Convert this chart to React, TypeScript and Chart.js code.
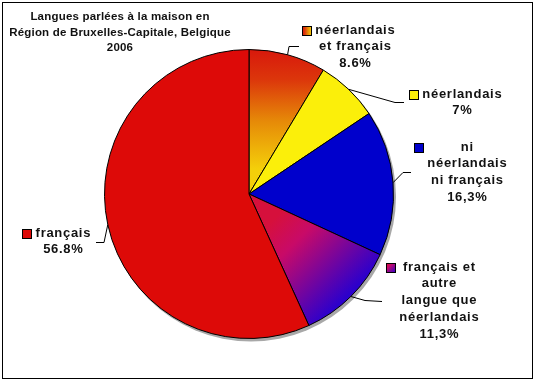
import React, { useEffect, useRef } from "react";
import { Chart, registerables } from "chart.js";

Chart.register(...registerables);

const titleLines = ["Langues parlées à la maison en", "Région de Bruxelles-Capitale, Belgique", "2006"];
const categories = [
  "néerlandais\net français",
  "néerlandais",
  "ni\nnéerlandais\nni français",
  "français et\nautre\nlangue que\nnéerlandais",
  "français",
];
const values = [8.6, 7, 16.3, 11.3, 56.8];
const valueLabels = ["8.6%", "7%", "16,3%", "11,3%", "56.8%"];

// layout of the labels: block center x, first line y, leader elbow and end
const labelLayout = [
  { cx: 355, y: 30, elbow: [289, 46], end: [299, 46] },
  { cx: 462, y: 94, elbow: [395, 102], end: [404, 102] },
  { cx: 467, y: 147, elbow: [403, 172], end: [411, 172] },
  { cx: 439, y: 267, elbow: [365, 300], end: [382, 301] },
  { cx: 63, y: 233, elbow: [104, 242], end: [96, 242] },
];

function geom(chart: any) {
  const a = chart.chartArea;
  const cx = (a.left + a.right) / 2;
  const cy = (a.top + a.bottom) / 2;
  const r = (Math.min(a.right - a.left, a.bottom - a.top) - 1) / 2;
  return { cx, cy, r };
}

function fillFor(ctx: CanvasRenderingContext2D, chart: any, i: number, box?: { x: number; y: number; s: number }) {
  const solid = ["#e0500a", "#fbef0a", "#0000cc", "#8010a0", "#dd0a08"];
  if (!chart.chartArea) return solid[i];
  const { cx, cy, r } = geom(chart);
  if (i === 0) {
    const g = box
      ? ctx.createLinearGradient(box.x, box.y, box.x + box.s, box.y)
      : ctx.createLinearGradient(cx, cy - r, cx, cy - 25);
    g.addColorStop(0, "#d8180c");
    g.addColorStop(0.25, "#dc360b");
    g.addColorStop(0.6, "#e68a08");
    g.addColorStop(1, "#f4cf0a");
    return g;
  }
  if (i === 3) {
    const g = box
      ? ctx.createLinearGradient(box.x, box.y, box.x + box.s, box.y + box.s)
      : ctx.createLinearGradient(cx + 20, cy + 30, cx + 95, cy + 105);
    g.addColorStop(0, "#d6103c");
    g.addColorStop(0.3, "#c80a68");
    g.addColorStop(1, "#2c00cc");
    return g;
  }
  return solid[i];
}

const decorPlugin = {
  id: "decor",
  beforeDraw(chart: any) {
    const ctx = chart.ctx;
    ctx.save();
    ctx.fillStyle = "#fff";
    ctx.fillRect(0, 0, chart.width, chart.height);
    ctx.restore();
  },
  beforeDatasetsDraw(chart: any) {
    const ctx = chart.ctx;
    const { cx, cy, r } = geom(chart);
    ctx.save();
    ctx.fillStyle = "#a8a8a8";
    ctx.beginPath();
    ctx.arc(cx + 2, cy + 2.5, r + 0.5, 0, Math.PI * 2);
    ctx.fill();
    ctx.restore();
  },
  afterDraw(chart: any) {
    const ctx = chart.ctx;
    ctx.save();
    // frame
    ctx.strokeStyle = "#000";
    ctx.lineWidth = 1;
    ctx.strokeRect(2.5, 2.5, 530, 376);
    // title
    ctx.fillStyle = "#111";
    ctx.textAlign = "center";
    ctx.textBaseline = "middle";
    ctx.font = "bold 11.5px 'Liberation Sans', Arial, sans-serif";
    (ctx as any).letterSpacing = "0.2px";
    titleLines.forEach((t, k) => ctx.fillText(t, 120, 17 + k * 15.5));

    // labels
    const meta = chart.getDatasetMeta(0);
    ctx.font = "bold 13px 'Liberation Sans', Arial, sans-serif";
    (ctx as any).letterSpacing = "0.7px";
    meta.data.forEach((arc: any, i: number) => {
      const p = arc.getProps(["x", "y", "startAngle", "endAngle", "outerRadius"], true);
      const mid = (p.startAngle + p.endAngle) / 2;
      const sx = p.x + Math.cos(mid) * p.outerRadius;
      const sy = p.y + Math.sin(mid) * p.outerRadius;
      const L = labelLayout[i];
      ctx.strokeStyle = "#000";
      ctx.lineWidth = 1;
      ctx.beginPath();
      ctx.moveTo(sx, sy);
      ctx.lineTo(L.elbow[0], L.elbow[1] + 0.5);
      ctx.lineTo(L.end[0], L.end[1] + 0.5);
      ctx.stroke();

      const lines = categories[i].split("\n").concat([valueLabels[i]]);
      const maxW = Math.max(...lines.map((t) => ctx.measureText(t).width));
      ctx.fillStyle = "#111";
      ctx.textAlign = "center";
      ctx.textBaseline = "middle";
      lines.forEach((t, k) => ctx.fillText(t, L.cx + 0.35, L.y + k * 16.8));
      const s = 9;
      const bx = Math.round(L.cx - maxW / 2 - 4 - s) + 0.5;
      const by = Math.round(L.y - s / 2) + 0.5;
      ctx.fillStyle = fillFor(ctx, chart, i, { x: bx, y: by, s });
      ctx.fillRect(bx, by, s, s);
      ctx.strokeStyle = "#000";
      ctx.strokeRect(bx, by, s, s);
    });
    ctx.restore();
  },
};

export default function App() {
  const ref = useRef<HTMLCanvasElement>(null);
  useEffect(() => {
    document.body.style.margin = "0";
    const chart = new Chart(ref.current!, {
      type: "pie",
      data: {
        labels: categories.map((c) => c.replace(/\n/g, " ")),
        datasets: [
          {
            data: values,
            backgroundColor: (c: any) => fillFor(c.chart.ctx, c.chart, c.dataIndex),
            borderColor: "#000",
            borderWidth: 1,
          },
        ],
      },
      options: {
        responsive: false,
        animation: false,
        layout: { padding: { left: 104, right: 141, top: 49, bottom: 43 } },
        plugins: { legend: { display: false }, tooltip: { enabled: false }, title: { display: false } },
      },
      plugins: [decorPlugin],
    });
    return () => chart.destroy();
  }, []);
  return (
    <div style={{ position: "absolute", left: 0, top: 0, width: 535, height: 382 }}>
      <canvas ref={ref} width={535} height={382} style={{ display: "block" }} />
    </div>
  );
}
